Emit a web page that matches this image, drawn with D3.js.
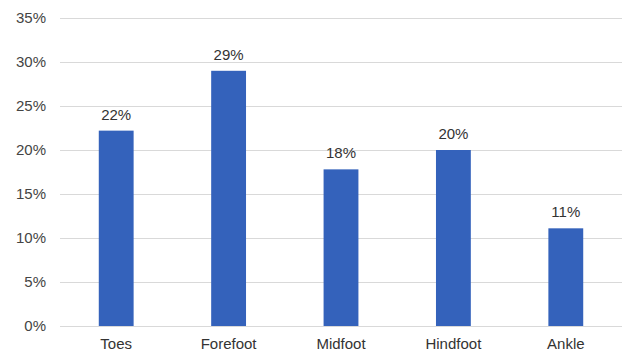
<!DOCTYPE html>
<html><head><meta charset="utf-8">
<script src="https://cdn.jsdelivr.net/npm/d3@7"></script>
<style>body{margin:0;background:#fff}svg{display:block}text{font-family:"Liberation Sans",Arial,sans-serif}</style>
</head><body><svg width="625" height="352"></svg>
<script>
const categories = ["Toes","Forefoot","Midfoot","Hindfoot","Ankle"];
const values = [22.2, 29, 17.8, 20, 11.1];
const valueLabels = ["22%","29%","18%","20%","11%"];
const yTicks = [0,5,10,15,20,25,30,35];

(function(){
const svg = d3.select("svg");
const mLeft = 60, mRight = 622, mTop = 18, mBottom = 326;
const x = d3.scaleBand().domain(categories).range([mLeft, mRight]).paddingInner(0.69).paddingOuter(0.345);
const y = d3.scaleLinear().domain([0,35]).range([mBottom, mTop]);

svg.append("g").selectAll("line").data(yTicks).join("line")
  .attr("x1", mLeft).attr("x2", mRight)
  .attr("y1", d=>y(d)+0.5).attr("y2", d=>y(d)+0.5)
  .attr("stroke", "#d9d9d9").attr("stroke-width", 1);

svg.append("g").selectAll("text").data(yTicks).join("text")
  .attr("x", 46).attr("y", d=>y(d)+5)
  .attr("text-anchor","end").attr("font-size",15).attr("fill","#444")
  .text(d=>d+"%");

svg.append("g").selectAll("rect").data(values).join("rect")
  .attr("x",(d,i)=>x(categories[i])).attr("width",x.bandwidth())
  .attr("y",d=>y(d)).attr("height",d=>y(0)-y(d))
  .attr("fill","#3462bb");

svg.append("g").selectAll("text").data(values).join("text")
  .attr("x",(d,i)=>x(categories[i])+x.bandwidth()/2).attr("y",d=>y(d)-11)
  .attr("text-anchor","middle").attr("font-size",15).attr("fill","#333")
  .text((d,i)=>valueLabels[i]);

svg.append("g").selectAll("text").data(categories).join("text")
  .attr("x",d=>x(d)+x.bandwidth()/2).attr("y",349)
  .attr("text-anchor","middle").attr("font-size",15).attr("fill","#333")
  .text(d=>d);
})();
</script></body></html>
